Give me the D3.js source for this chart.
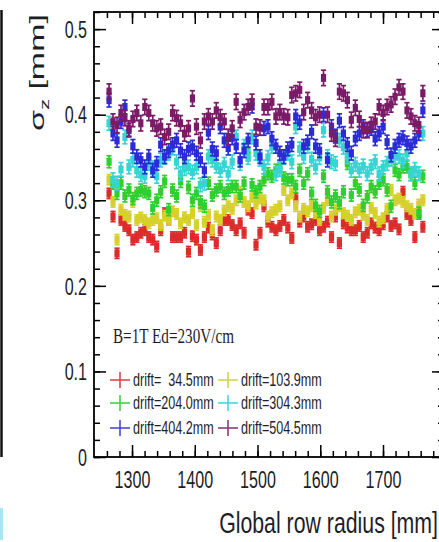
<!DOCTYPE html>
<html>
<head>
<meta charset="utf-8">
<script src="https://cdn.jsdelivr.net/npm/d3@7"></script>
<style>
body { margin: 0; background: #fff; }
svg { display: block; }
text { font-family: "Liberation Sans", Arial, sans-serif; fill: #1e1e28; }
</style>
</head>
<body>
<svg width="439" height="542"></svg>
<script>
// pad row radius [mm]
let rowRadius = [
  1263.4,1269.7,1276.1,1282.4,1288.7,1295.1,1301.4,1307.7,1314.0,1320.4,
  1326.7,1333.0,1339.4,1345.7,1352.0,1358.4,1364.7,1371.0,1377.3,1383.7,
  1390.0,1396.3,1402.7,1409.0,1415.3,1421.7,1428.0,1434.3,1440.6,1447.0,
  1453.3,1459.6,1466.0,1472.3,1478.6,1485.0,1491.3,1497.6,1503.9,1510.3,
  1516.6,1522.9,1529.3,1535.6,1541.9,1548.3,1554.6,1560.9,1567.2,1573.6,
  1579.9,1586.2,1592.6,1598.9,1605.2,1611.6,1617.9,1624.2,1630.5,1636.9,
  1643.2,1649.5,1655.9,1662.2,1668.5,1674.9,1681.2,1687.5,1693.8,1700.2,
  1706.5,1712.8,1719.2,1725.5,1731.8,1738.2,1744.5,1750.8,1757.1,1763.5
];

// sigma_z [mm] for each drift distance
let sigmaDrift34 = [
  0.308,0.281,0.238,0.277,0.270,0.265,0.254,0.257,0.262,0.265,
  0.257,0.254,0.246,0.265,0.285,0.277,0.257,0.257,0.257,0.262,
  0.240,0.258,0.254,0.242,0.257,0.268,0.260,0.250,0.265,0.277,
  0.277,0.271,0.265,0.273,0.262,0.289,0.285,0.248,0.262,0.293,
  0.275,0.269,0.265,0.270,0.277,0.268,0.256,0.302,0.275,0.281,
  0.269,0.272,0.277,0.265,0.269,0.275,0.257,0.281,0.250,0.273,
  0.268,0.265,0.265,0.270,0.257,0.262,0.273,0.268,0.265,0.272,
  0.281,0.270,0.273,0.266,0.310,0.284,0.277,0.257,0.284,0.269
];
let sigmaDrift104 = [
  0.324,0.298,0.254,0.289,0.283,0.281,0.298,0.277,0.280,0.277,
  0.273,0.277,0.279,0.271,0.282,0.277,0.287,0.284,0.273,0.280,
  0.277,0.285,0.271,0.293,0.275,0.283,0.265,0.281,0.277,0.288,
  0.293,0.290,0.300,0.310,0.298,0.293,0.304,0.296,0.302,0.300,
  0.281,0.286,0.289,0.293,0.312,0.300,0.308,0.293,0.281,0.290,
  0.287,0.293,0.285,0.277,0.291,0.300,0.281,0.289,0.293,0.285,
  0.282,0.277,0.286,0.289,0.283,0.277,0.291,0.285,0.275,0.279,
  0.290,0.312,0.300,0.302,0.298,0.293,0.290,0.284,0.295,0.300
];
let sigmaDrift204 = [
  0.345,0.320,0.308,0.320,0.305,0.312,0.302,0.308,0.312,0.310,
  0.308,0.291,0.300,0.310,0.322,0.289,0.312,0.305,0.322,0.343,
  0.315,0.300,0.308,0.298,0.293,0.320,0.306,0.312,0.316,0.308,
  0.312,0.316,0.316,0.305,0.320,0.353,0.318,0.310,0.316,0.324,
  0.331,0.328,0.335,0.339,0.326,0.324,0.324,0.316,0.335,0.320,
  0.331,0.308,0.294,0.287,0.328,0.310,0.298,0.305,0.297,0.310,
  0.343,0.306,0.320,0.312,0.294,0.304,0.316,0.310,0.320,0.324,
  0.312,0.293,0.335,0.330,0.339,0.339,0.330,0.320,0.285,0.328
];
let sigmaDrift304 = [
  0.390,0.324,0.320,0.336,0.374,0.339,0.347,0.335,0.330,0.328,
  0.343,0.338,0.328,0.347,0.350,0.355,0.361,0.345,0.331,0.337,
  0.339,0.333,0.339,0.318,0.320,0.351,0.347,0.340,0.335,0.342,
  0.331,0.345,0.374,0.343,0.363,0.350,0.374,0.355,0.348,0.339,
  0.350,0.363,0.331,0.336,0.350,0.355,0.345,0.386,0.360,0.351,
  0.363,0.348,0.339,0.350,0.382,0.351,0.345,0.343,0.370,0.362,
  0.351,0.335,0.342,0.335,0.340,0.331,0.339,0.345,0.331,0.338,
  0.343,0.348,0.351,0.351,0.346,0.355,0.331,0.336,0.331,0.378
];
let sigmaDrift404 = [
  0.417,0.378,0.370,0.392,0.409,0.382,0.363,0.351,0.347,0.339,
  0.351,0.335,0.343,0.365,0.351,0.358,0.365,0.370,0.358,0.351,
  0.360,0.362,0.355,0.347,0.335,0.379,0.360,0.355,0.386,0.370,
  0.361,0.373,0.363,0.347,0.358,0.370,0.410,0.367,0.351,0.384,
  0.386,0.372,0.363,0.355,0.351,0.360,0.365,0.398,0.391,0.363,
  0.368,0.380,0.363,0.358,0.400,0.347,0.386,0.375,0.393,0.378,
  0.365,0.355,0.372,0.378,0.386,0.382,0.384,0.372,0.378,0.386,
  0.368,0.353,0.363,0.370,0.373,0.367,0.363,0.370,0.378,0.405
];
let sigmaDrift505 = [
  0.427,0.392,0.388,0.402,0.396,0.384,0.395,0.402,0.390,0.409,
  0.402,0.390,0.384,0.386,0.374,0.380,0.402,0.396,0.390,0.378,
  0.384,0.419,0.386,0.370,0.392,0.398,0.392,0.405,0.397,0.392,
  0.374,0.384,0.415,0.394,0.403,0.409,0.415,0.386,0.385,0.409,
  0.409,0.415,0.398,0.403,0.398,0.397,0.423,0.425,0.429,0.403,
  0.417,0.405,0.397,0.400,0.443,0.400,0.378,0.372,0.427,0.425,
  0.417,0.394,0.408,0.395,0.382,0.382,0.388,0.392,0.409,0.402,
  0.409,0.412,0.421,0.432,0.427,0.405,0.398,0.390,0.388,0.425
];
// error on sigma_z for each drift distance
let sigmaErr = [0.006, 0.006, 0.007, 0.008, 0.008, 0.009];
let driftLabels = ["drift=  34.5mm", "drift=103.9mm", "drift=204.0mm",
                   "drift=304.3mm", "drift=404.2mm", "drift=504.5mm"];
let yTicks = [0, 0.1, 0.2, 0.3, 0.4, 0.5];
let xTicks = [1300, 1400, 1500, 1600, 1700];

let markerColors = ["#dc2b2b", "#d6d12a", "#2fcf2f", "#38d4d4", "#2c2cd6", "#7b1a66"];
let legendColors = ["#e04848", "#d8d24a", "#44d044", "#4cd6d6", "#4848e0", "#8a3a7c"];

let allSeries = [sigmaDrift34, sigmaDrift104, sigmaDrift204, sigmaDrift304, sigmaDrift404, sigmaDrift505];

let svg = d3.select("svg");

//frame of the plot in pixels
let frame = {left: 94, right: 444, top: 12, bottom: 457};
let xScale = d3.scaleLinear().domain([1239.4, 1797.2]).range([frame.left, frame.right]);
let yScale = d3.scaleLinear().domain([0, 0.52]).range([frame.bottom, frame.top]);

// bits of the neighbouring figure that are left in the crop
svg.append("line").attr("x1", 1.5).attr("x2", 1.5).attr("y1", 10).attr("y2", 457)
  .attr("stroke", "#111").attr("stroke-width", 2.5);
svg.append("rect").attr("x", 0).attr("y", 508).attr("width", 3).attr("height", 32)
  .attr("fill", "#a8e6f2");

//draw the points with error bars, first drift on the bottom
allSeries.forEach(function(values, s) {
  let g = svg.append("g").attr("class", "series");
  let color = markerColors[s];
  let err = sigmaErr[s];
  values.forEach(function(v, i) {
    let px = xScale(rowRadius[i]);
    let yHi = yScale(v + err);
    let yLo = yScale(v - err);
    g.append("line").attr("x1", px).attr("x2", px).attr("y1", yHi).attr("y2", yLo)
      .attr("stroke", color).attr("stroke-width", 1.7);
    g.append("line").attr("x1", px - 2.6).attr("x2", px + 2.6).attr("y1", yHi).attr("y2", yHi)
      .attr("stroke", color).attr("stroke-width", 1.7);
    g.append("line").attr("x1", px - 2.6).attr("x2", px + 2.6).attr("y1", yLo).attr("y2", yLo)
      .attr("stroke", color).attr("stroke-width", 1.7);
    g.append("rect").attr("x", px - 2.6).attr("y", yScale(v) - 4)
      .attr("width", 5.2).attr("height", 8).attr("fill", color);
  });
});

//axes, ticks point into the frame like in ROOT
let tickStep = 0.02;
let yMinor = d3.range(0, 0.52 + 1e-9, tickStep).map(d => +d.toFixed(2));
let xMinor = d3.range(1260, 1797, 20);

function plainTicks(g) {
  g.select(".domain").remove();
  g.selectAll("line").attr("stroke", "#000").attr("stroke-width", 1.5);
}

svg.append("g").attr("transform", "translate(" + frame.left + ",0)")
  .call(d3.axisLeft(yScale).tickValues(yMinor).tickSize(-6).tickFormat(""))
  .call(plainTicks);
let yGroup = svg.append("g").attr("transform", "translate(" + frame.left + ",0)")
  .call(d3.axisLeft(yScale).tickValues(yTicks).tickSize(-12).tickPadding(7)
    .tickFormat(d => d === 0 ? "0" : d3.format(".1f")(d)))
  .call(plainTicks);
yGroup.selectAll("text")
  .attr("x", -7 / 0.7).attr("dy", "0.36em")
  .attr("transform", "scale(0.7,1)")
  .style("font-size", "23px");

svg.append("g").attr("transform", "translate(" + frame.right + ",0)")
  .call(d3.axisRight(yScale).tickValues(yMinor).tickSize(-6).tickFormat(""))
  .call(plainTicks);
svg.append("g").attr("transform", "translate(" + frame.right + ",0)")
  .call(d3.axisRight(yScale).tickValues(yTicks).tickSize(-12).tickFormat(""))
  .call(plainTicks);

svg.append("g").attr("transform", "translate(0," + frame.bottom + ")")
  .call(d3.axisBottom(xScale).tickValues(xMinor).tickSize(-6).tickFormat(""))
  .call(plainTicks);
let xGroup = svg.append("g").attr("transform", "translate(0," + frame.bottom + ")")
  .call(d3.axisBottom(xScale).tickValues(xTicks).tickSize(-12).tickPadding(15)
    .tickFormat(d3.format("d")))
  .call(plainTicks);
xGroup.selectAll("text")
  .attr("transform", "scale(0.7,1)")
  .style("font-size", "23px");

svg.append("g").attr("transform", "translate(0," + frame.top + ")")
  .call(d3.axisTop(xScale).tickValues(xMinor).tickSize(-6).tickFormat(""))
  .call(plainTicks);
svg.append("g").attr("transform", "translate(0," + frame.top + ")")
  .call(d3.axisTop(xScale).tickValues(xTicks).tickSize(-12).tickFormat(""))
  .call(plainTicks);

//frame box
svg.append("rect")
  .attr("x", frame.left).attr("y", frame.top)
  .attr("width", frame.right - frame.left).attr("height", frame.bottom - frame.top)
  .attr("fill", "none").attr("stroke", "#000").attr("stroke-width", 1.8);

//axis titles
svg.append("text")
  .attr("transform", "translate(438,533) scale(0.71,1)")
  .style("text-anchor", "end")
  .style("font-size", "30px")
  .text("Global row radius [mm]");

let yTitle = svg.append("text")
  .attr("transform", "translate(44,131) scale(0.62,1) rotate(-90)")
  .style("font-size", "34px");
yTitle.append("tspan").text("σ");
yTitle.append("tspan").attr("dy", 8).style("font-size", "22px").text("z");
yTitle.append("tspan").attr("dy", -8).text(" [mm]");

//legend
svg.append("text")
  .attr("transform", "translate(113,343) scale(0.69,1)")
  .style("font-family", "'Liberation Serif', 'Times New Roman', serif")
  .style("font-size", "22px")
  .text("B=1T Ed=230V/cm");

let legendRows = [380, 403, 428];
let legendCols = [120, 228];
driftLabels.forEach(function(label, i) {
  let cx = legendCols[i % 2];
  let cy = legendRows[Math.floor(i / 2)];
  let g = svg.append("g");
  g.append("line").attr("x1", cx - 10).attr("x2", cx + 10).attr("y1", cy).attr("y2", cy)
    .attr("stroke", legendColors[i]).attr("stroke-width", 1.6);
  g.append("line").attr("x1", cx).attr("x2", cx).attr("y1", cy - 8).attr("y2", cy + 8)
    .attr("stroke", legendColors[i]).attr("stroke-width", 1.6);
  g.append("text")
    .attr("transform", "translate(" + (cx + 13) + "," + (cy + 6) + ") scale(0.7,1)")
    .style("font-size", "18px")
    .style("white-space", "pre")
    .text(label);
});
</script>
</body>
</html>
